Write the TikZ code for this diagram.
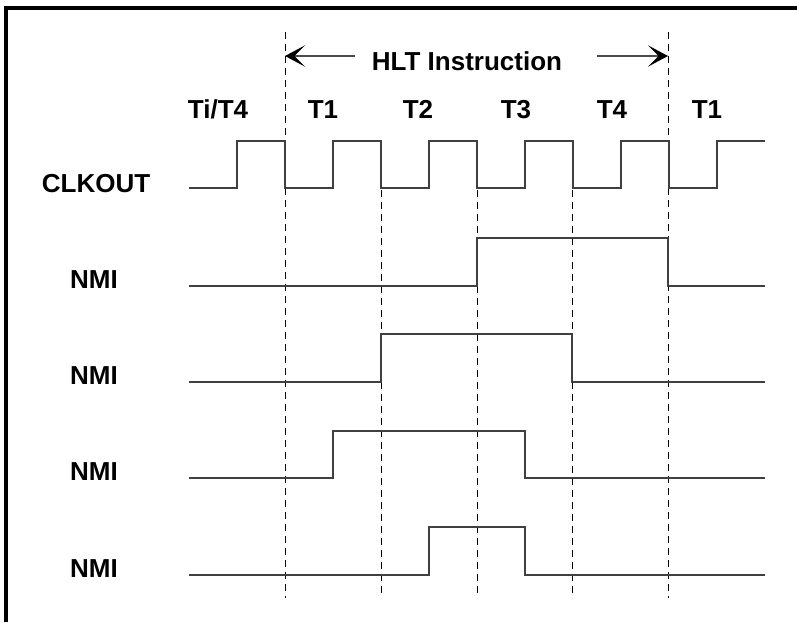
\documentclass[tikz,border=0pt]{standalone}
\usepackage{fontspec}
\setmainfont{Liberation Sans}
\usetikzlibrary{arrows.meta,positioning}

\begin{document}
\begin{tikzpicture}[x=0.75pt,y=-0.75pt,
        sig/.style={draw=black!75,line width=1.1pt},
        cut/.style={draw=black,line width=0.6pt,dash pattern=on 5.5pt off 3.5pt},
        lbl/.style={font=\fontsize{19.5}{22}\selectfont\bfseries,inner sep=0pt,anchor=base},
        span/.style={draw=black!70,line width=1.1pt,-{Stealth[length=15pt,width=16pt,inset=8pt,black]}}]
    \useasboundingbox (0,0) rectangle (797,622);
    \draw[line width=2.6pt] (6,622) -- (6,8) -- (797,8);

    \foreach \n/\x/\y in {0/285/32,1/381/190,2/477/190,3/572/190,4/668/32} {
        \coordinate (top\n) at (\x,\y);
        \coordinate (bot\n) at (\x,598);
        \draw[cut] (top\n) -- (bot\n);
    }

    \node   [lbl]   (hlt)   at (467,70)     {HLT Instruction};
    \coordinate (arl) at (355,56);
    \coordinate (arr) at (597,56);
    \draw[span] (arl) -- (top0 |- arl);
    \draw[span] (arr) -- (top4 |- arr);

    \node   [lbl]   (p0)    at (218,118)    {Ti/T4};
    \foreach \n/\x/\t in {1/323/T1,2/418/T2,3/516/T3,4/612/T4,5/707/T1}
        \node   [lbl]   (p\n)   at (\x,118)     {\t};

    \node   [lbl]   (clk)   at (96,192)     {CLKOUT};
    \node   [lbl]   (nmia)  at (94,288)     {NMI};
    \node   [lbl]   (nmib)  at (94,384)     {NMI};
    \node   [lbl]   (nmic)  at (94,480)     {NMI};
    \node   [lbl]   (nmid)  at (94,577)     {NMI};

    \draw[sig] (189,188) foreach \k in {1,...,5} {-- ++(48,0) -- ++(0,-47) -- ++(48,0) -- ++(0,47)}
        -- ++(48,0) -- ++(0,-47) -- ++(48,0);
    \draw[sig] (189,286) -| (477,238) -| (668,286) -- (765,286);
    \draw[sig] (189,382) -| (381,334) -| (572,382) -- (765,382);
    \draw[sig] (189,478) -| (333,431) -| (525,478) -- (765,478);
    \draw[sig] (189,575) -| (429,527) -| (525,575) -- (765,575);
\end{tikzpicture}
\end{document}
